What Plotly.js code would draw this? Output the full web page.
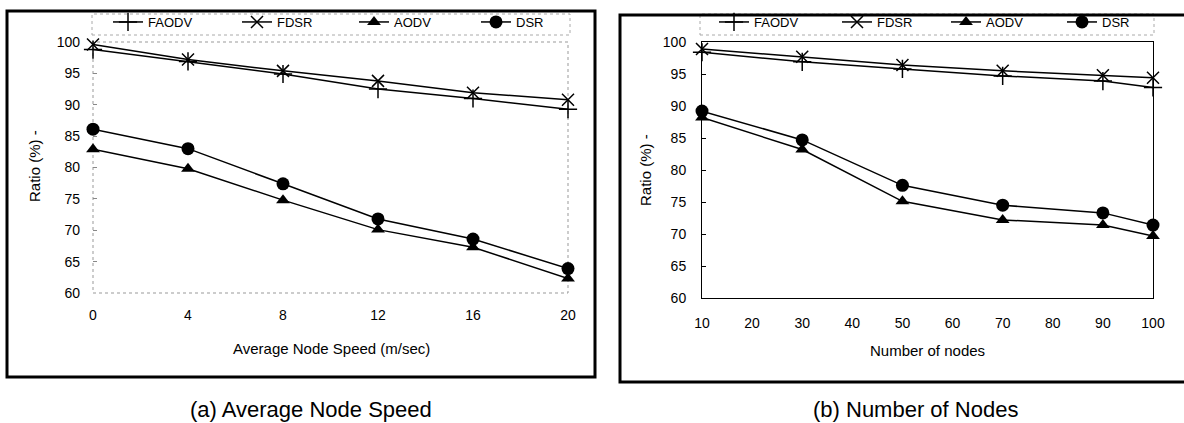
<!DOCTYPE html>
<html>
<head>
<meta charset="utf-8">
<script src="https://cdn.plot.ly/plotly-3.0.1.min.js"></script>
<style>
  html, body { margin: 0; padding: 0; background: #fff; overflow: hidden; width: 1184px; height: 423px; }
  #chart { width: 1184px; height: 423px; overflow: hidden; }
</style>
</head>
<body>
<div id="chart"></div>
<script>
// ---- Data ----
const seriesNames = ["FAODV", "FDSR", "AODV", "DSR"];

// (a) Average Node Speed
const speedX = [0, 4, 8, 12, 16, 20];
const speedFAODV = [98.8, 96.9, 94.9, 92.5, 91.0, 89.3];
const speedFDSR  = [99.6, 97.2, 95.4, 93.8, 91.9, 90.8];
const speedAODV  = [82.9, 79.8, 74.8, 70.1, 67.3, 62.3];
const speedDSR   = [86.1, 83.0, 77.4, 71.8, 68.6, 63.9];

// (b) Number of Nodes
const nodesX = [10, 30, 50, 70, 90, 100];
const nodesFAODV = [98.4, 96.9, 95.8, 94.7, 93.9, 92.9];
const nodesFDSR  = [98.9, 97.7, 96.4, 95.5, 94.8, 94.4];
const nodesAODV  = [88.2, 83.2, 75.1, 72.2, 71.4, 69.7];
const nodesDSR   = [89.2, 84.7, 77.6, 74.5, 73.3, 71.4];

const speedTicks = [0, 4, 8, 12, 16, 20];
const nodesTicks = [10, 20, 30, 40, 50, 60, 70, 80, 90, 100];
const yTicks = [60, 65, 70, 75, 80, 85, 90, 95, 100];

const xTitleA = "Average Node Speed (m/sec)";
const xTitleB = "Number of nodes";
const yTitle = "Ratio (%) -";
const captionA = "(a) Average Node Speed";
const captionB = "(b) Number of Nodes";

// ---- Helpers for layout positions ----
const W = 1184, H = 423;
const px = v => v / W;
const py = v => 1 - v / H;

const FONT = "Liberation Sans, Arial, sans-serif";
const markerStyles = [
  {symbol: "cross-thin", size: 13, color: "#000", line: {color: "#000", width: 1.5}},
  {symbol: "x-thin", size: 12, color: "#000", line: {color: "#000", width: 1.5}},
  {symbol: "triangle-up", size: 12, color: "#000"},
  {symbol: "circle", size: 13, color: "#000"}
];

// legend ids: one per entry so each entry sits where the original places it
const legendIdsA = ["legend", "legend2", "legend3", "legend4"];
const legendIdsB = ["legend5", "legend6", "legend7", "legend8"];
const legendLeftA = [113, 242, 359, 481];
const legendLeftB = [719, 842, 951, 1067];

function makeTraces(x, ys, xa, ya, legendIds) {
  return ys.map((y, i) => ({
    type: "scatter", mode: "lines+markers",
    x: x, y: y, name: seriesNames[i],
    xaxis: xa, yaxis: ya, legend: legendIds[i],
    line: {color: "#000", width: 1.5},
    marker: markerStyles[i],
    cliponaxis: false
  }));
}

const traces = [
  ...makeTraces(speedX, [speedFAODV, speedFDSR, speedAODV, speedDSR], "x", "y", legendIdsA),
  ...makeTraces(nodesX, [nodesFAODV, nodesFDSR, nodesAODV, nodesDSR], "x2", "y2", legendIdsB)
];

const tickFont = {family: FONT, size: 14, color: "#000"};

const layout = {
  width: W, height: H,
  margin: {l: 0, r: 0, t: 0, b: 0},
  paper_bgcolor: "#fff", plot_bgcolor: "rgba(0,0,0,0)",
  showlegend: true,
  xaxis: {
    domain: [px(93), px(568)], range: [0, 20], anchor: "y",
    tickvals: speedTicks, ticks: "", showgrid: false, zeroline: false, showline: false,
    tickfont: tickFont, ticklabelstandoff: 12, fixedrange: true
  },
  yaxis: {
    domain: [py(293), py(42)], range: [60, 100], anchor: "x",
    tickvals: yTicks, ticks: "inside", ticklen: 4, tickcolor: "#888",
    showgrid: false, zeroline: false, showline: false,
    tickfont: tickFont, ticklabelstandoff: 12, fixedrange: true
  },
  xaxis2: {
    domain: [px(702), px(1153)], range: [10, 100], anchor: "y2",
    tickvals: nodesTicks, ticks: "", showgrid: false, zeroline: false,
    showline: true, mirror: true, linecolor: "#000", linewidth: 1,
    tickfont: tickFont, ticklabelstandoff: 12, fixedrange: true
  },
  yaxis2: {
    domain: [py(298), py(42)], range: [60, 100], anchor: "x2",
    tickvals: yTicks, ticks: "inside", ticklen: 4, tickcolor: "#000",
    showgrid: false, zeroline: false,
    showline: true, mirror: true, linecolor: "#000", linewidth: 1,
    tickfont: tickFont, ticklabelstandoff: 12, fixedrange: true
  },
  shapes: [
    // outer frames
    {type: "rect", xref: "paper", yref: "paper", x0: px(7), x1: px(595), y0: py(377), y1: py(11),
     line: {color: "#000", width: 3}},
    {type: "path", xref: "paper", yref: "paper",
     path: `M ${px(1184)},${py(15)} L ${px(620)},${py(15)} L ${px(620)},${py(382)} L ${px(1184)},${py(382)}`,
     line: {color: "#000", width: 3}},
    // faint dotted plot frame (left)
    {type: "rect", xref: "x domain", yref: "y domain", x0: 0, x1: 1, y0: 0, y1: 1,
     line: {color: "#999", width: 1, dash: "dot"}, layer: "below"},
    // faint dotted legend boxes
    {type: "rect", xref: "paper", yref: "paper", x0: px(92), x1: px(570), y0: py(35), y1: py(14),
     line: {color: "#aaa", width: 1, dash: "dot"}, layer: "below"},
    {type: "rect", xref: "paper", yref: "paper", x0: px(700), x1: px(1154), y0: py(35), y1: py(14),
     line: {color: "#aaa", width: 1, dash: "dot"}, layer: "below"}
  ],
  annotations: [
    {text: xTitleA, xref: "paper", yref: "paper", x: px(331), y: py(348),
     xanchor: "center", yanchor: "middle", showarrow: false,
     font: {family: FONT, size: 15, color: "#000"}},
    {text: xTitleB, xref: "paper", yref: "paper", x: px(927), y: py(350),
     xanchor: "center", yanchor: "middle", showarrow: false,
     font: {family: FONT, size: 15, color: "#000"}},
    {text: yTitle, xref: "paper", yref: "paper", x: px(34), y: py(166), textangle: -90,
     xanchor: "center", yanchor: "middle", showarrow: false,
     font: {family: FONT, size: 15, color: "#000"}},
    {text: yTitle, xref: "paper", yref: "paper", x: px(645), y: py(170), textangle: -90,
     xanchor: "center", yanchor: "middle", showarrow: false,
     font: {family: FONT, size: 15, color: "#000"}},
    {text: captionA, xref: "paper", yref: "paper", x: px(311), y: py(409),
     xanchor: "center", yanchor: "middle", showarrow: false,
     font: {family: FONT, size: 22, color: "#000"}},
    {text: captionB, xref: "paper", yref: "paper", x: px(915), y: py(409),
     xanchor: "center", yanchor: "middle", showarrow: false,
     font: {family: FONT, size: 22, color: "#000"}}
  ]
};

function legendAt(left) {
  return {
    orientation: "h", x: px(left - 5), y: py(22), xanchor: "left", yanchor: "middle",
    font: {family: FONT, size: 13, color: "#000"},
    bgcolor: "rgba(0,0,0,0)", borderwidth: 0
  };
}
legendIdsA.forEach((id, i) => { layout[id] = legendAt(legendLeftA[i]); });
legendIdsB.forEach((id, i) => { layout[id] = legendAt(legendLeftB[i]); });

Plotly.newPlot("chart", traces, layout, {displayModeBar: false, staticPlot: true});
</script>
</body>
</html>
